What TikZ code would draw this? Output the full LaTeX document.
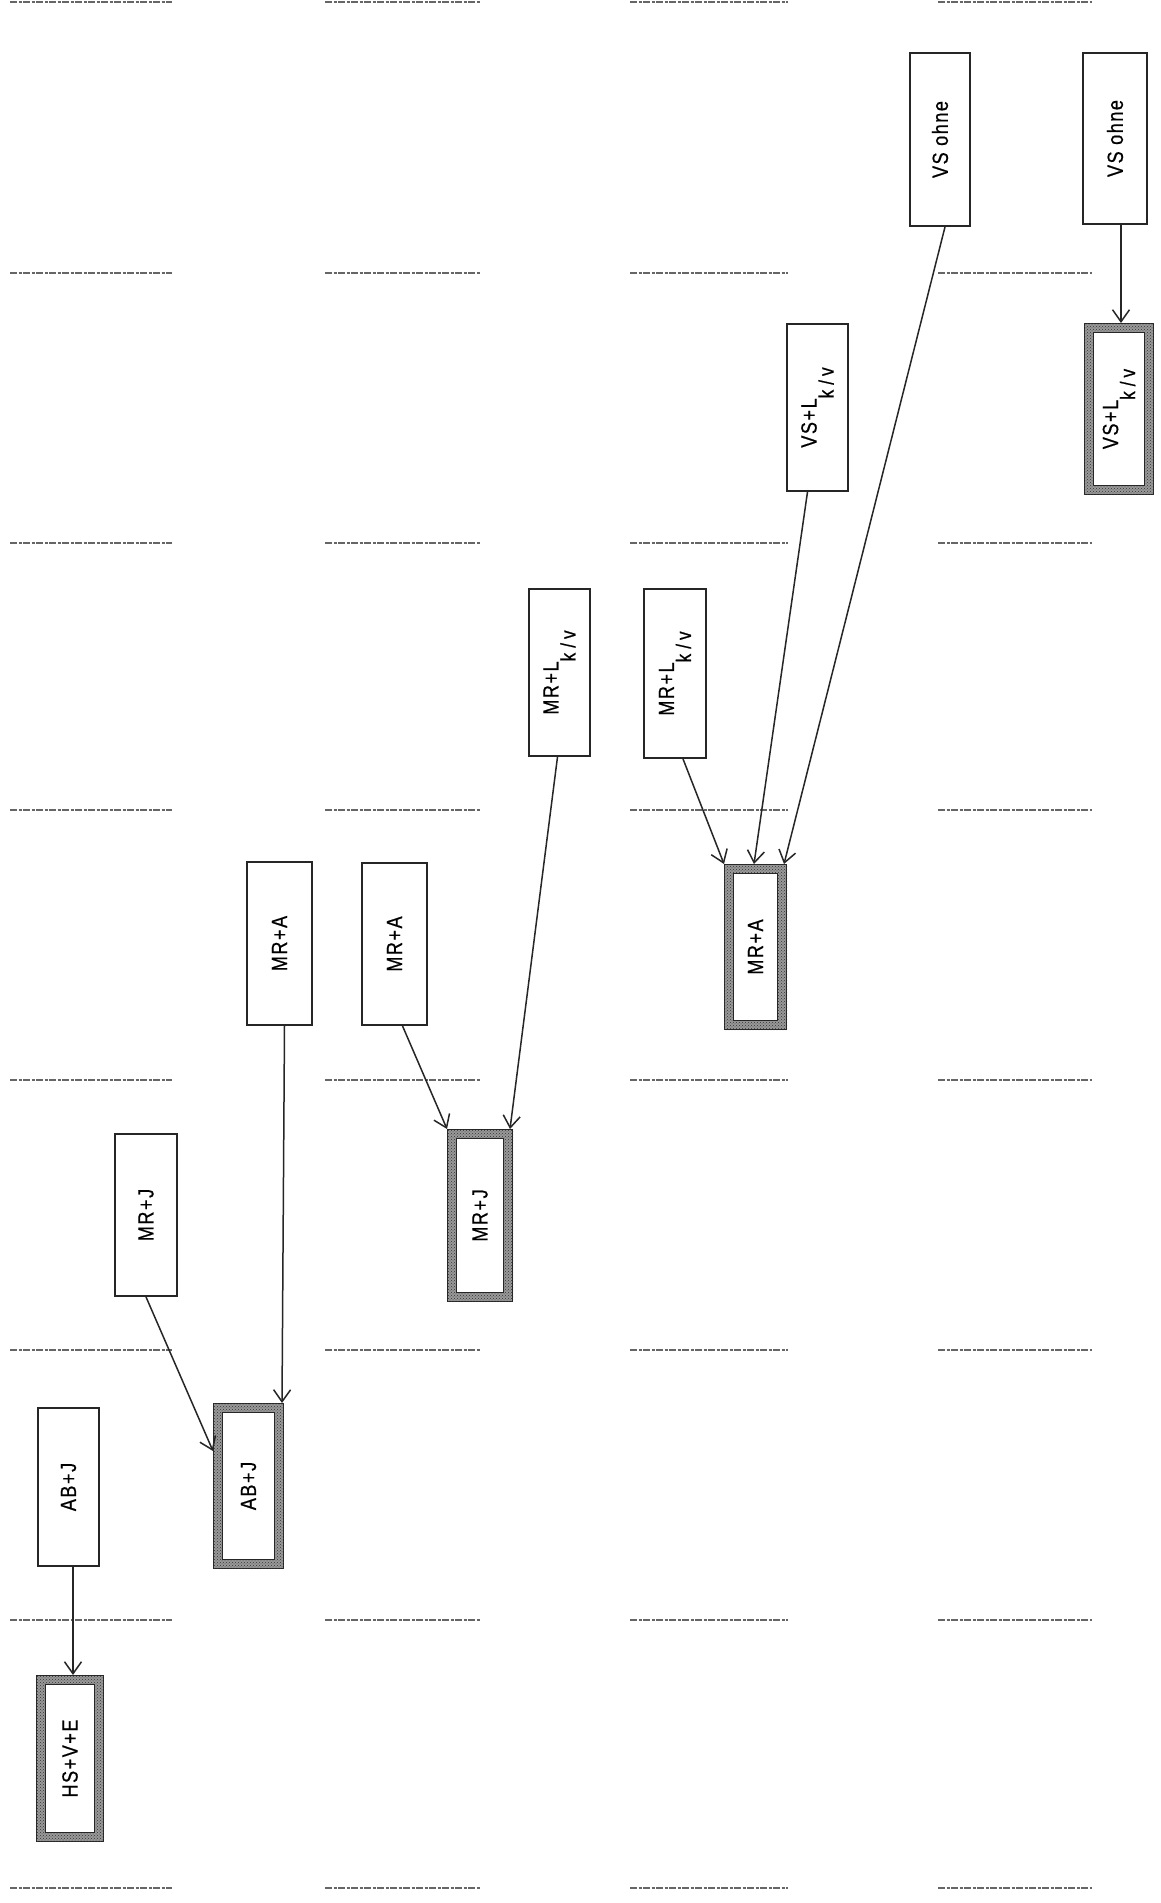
\documentclass[tikz,border=0pt]{standalone}
\usepackage{graphicx}
\usepackage{fontspec}
\newfontfamily\boxfont{Liberation Sans}[FakeStretch=0.82,LetterSpace=7,FakeBold=0.6]
\usetikzlibrary{arrows.meta,calc,patterns}
\newcommand\Lkv{L\raisebox{-17pt}{\fontsize{21}{22}\selectfont k\kern5pt/\kern4pt v}}
\begin{document}
\begin{tikzpicture}[x=1pt,y=-1pt,
  lbl/.style={font=\boxfont\fontsize{22}{24}\selectfont},
  plainbox/.style 2 args={rectangle, draw=black!85, line width=1.8pt, fill=white, inner sep=0pt, minimum width=#1, minimum height=#2, lbl},
  targetbox/.style 2 args={rectangle, draw=black!85, line width=1.2pt, double=black!40, double distance=7.6pt, fill=white, inner sep=0pt, outer sep=5pt, minimum width=#1, minimum height=#2, lbl},
  speckle/.style={pattern=crosshatch dots, pattern color=black!80, even odd rule},
  conn/.style={draw=black!85, line width=1.5pt, -{Straight Barb[length=12pt,width=17pt,line width=1.5pt]}},
  gridline/.style={draw=black!60, line width=1.3pt, dash pattern=on 7pt off 1.5pt on 3pt off 1.5pt}]

\fill[white] (0,0) rectangle (1161,1903);
\useasboundingbox (0,0) rectangle (1161,1903);

% horizontal dashed guide lines
\foreach \yy in {2,273,543,810,1080,1350,1620,1888}{
  \draw[gridline] (10,\yy) -- (172,\yy);
  \draw[gridline] (325,\yy) -- (480,\yy);
  \draw[gridline] (630,\yy) -- (788,\yy);
  \draw[gridline] (938,\yy) -- (1092,\yy);
}

% plain boxes
\node[plainbox={61pt}{158pt}] (abj1) at (68.5,1487) {\rotatebox{90}{AB+J}};
\node[plainbox={62pt}{162pt}] (mrj1) at (146,1215) {\rotatebox{90}{MR+J}};
\node[plainbox={65pt}{163pt}] (mra1) at (279.5,943.5) {\rotatebox{90}{MR+A}};
\node[plainbox={65pt}{162pt}] (mra2) at (394.5,944) {\rotatebox{90}{MR+A}};
\node[plainbox={61pt}{167pt}] (mrl1) at (559.5,672.5) {\rotatebox{90}{MR+\Lkv}};
\node[plainbox={62pt}{169pt}] (mrl2) at (675,673.5) {\rotatebox{90}{MR+\Lkv}};
\node[plainbox={61pt}{167pt}] (vsl1) at (817.5,407.5) {\rotatebox{90}{VS+\Lkv}};
\node[plainbox={60pt}{173pt}] (vso1) at (940,139.5) {\rotatebox{90}{VS ohne}};
\node[plainbox={64pt}{171pt}] (vso2) at (1115,138.5) {\rotatebox{90}{VS ohne}};

% target boxes
\node[targetbox={58pt}{157pt}] (t1) at (70,1758.5) {\rotatebox{90}{HS+V+E}};
\node[targetbox={61pt}{156pt}] (t2) at (248.5,1486) {\rotatebox{90}{AB+J}};
\node[targetbox={56pt}{163pt}] (t3) at (480,1215.5) {\rotatebox{90}{MR+J}};
\node[targetbox={53pt}{156pt}] (t4) at (755.5,947) {\rotatebox{90}{MR+A}};
\node[targetbox={60pt}{162pt}] (t5) at (1119,409) {\rotatebox{90}{VS+\Lkv}};

% speckled texture on the target frames
\foreach \t in {t1,t2,t3,t4,t5}{
  \fill[speckle] (\t.north west) rectangle (\t.south east)
    ([xshift=9pt,yshift=-9pt]\t.north west) rectangle ([xshift=-9pt,yshift=9pt]\t.south east);
}

% connectors
\draw[conn] ([xshift=4.5pt]abj1.south) -- ([xshift=3pt]t1.north);
\draw[conn] (mrj1.south) -- ([yshift=35pt]t2.west);
\draw[conn] ([xshift=5pt]mra1.south) -- ([xshift=-2pt]t2.north east);
\draw[conn] ([xshift=8pt]mra2.south) -- (t3.north west);
\draw[conn] ([xshift=-2pt]mrl1.south) -- ([xshift=-3pt]t3.north east);
\draw[conn] ([xshift=8pt]mrl2.south) -- (t4.north west);
\draw[conn] ([xshift=-10pt]vsl1.south) -- ([xshift=-1.5pt]t4.north);
\draw[conn] ([xshift=5pt]vso1.south) -- ([xshift=-3pt]t4.north east);
\draw[conn] ([xshift=6pt]vso2.south) -- ([xshift=2pt]t5.north);
\end{tikzpicture}
\end{document}
